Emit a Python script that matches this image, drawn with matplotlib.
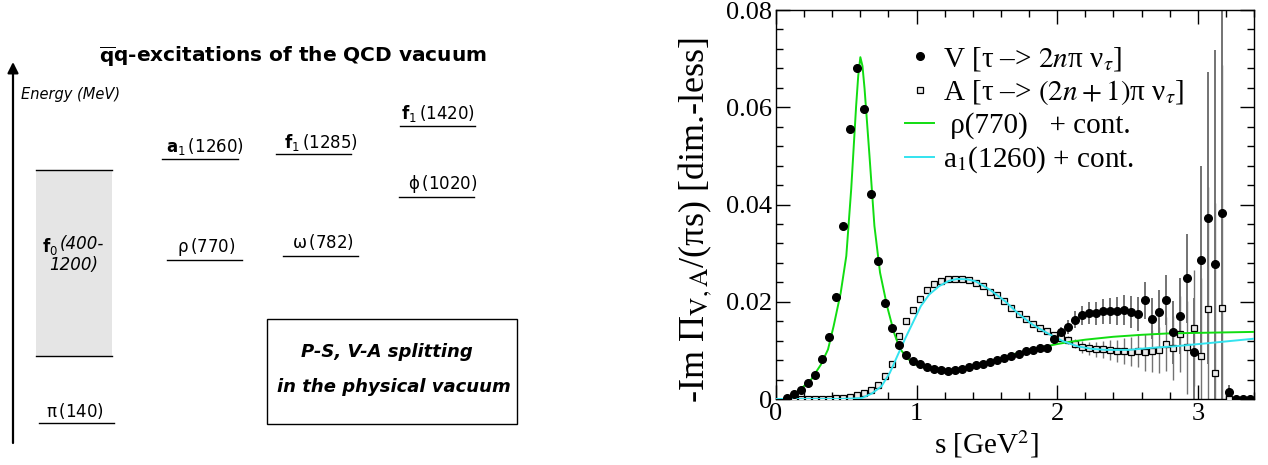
import matplotlib
matplotlib.use('Agg')
import matplotlib.pyplot as plt
from matplotlib.lines import Line2D
from matplotlib.patches import Rectangle

plt.rcParams['font.family'] = ['DejaVu Sans']

# ---------------- left panel: level scheme ----------------
level_names = [r"$\mathrm{π}$", r"$\mathrm{ρ}$", r"$\mathbf{a}_1$", r"$\mathrm{ω}$",
               r"$\mathbf{f}_1$", r"$\mathrm{ϕ}$", r"$\mathbf{f}_1$"]
level_masses = ["140", "770", "1260", "782", "1285", "1020", "1420"]
f0_name = r"$\mathbf{f}_0$"
f0_range = ("(400-", "1200)")

# layout in pixel coords of the 1268x465 canvas: (line x0, line x1, line y, label x, label y)
level_layout = [(39, 114, 423, 46, 411),
                (167, 242, 260, 177, 247),
                (162, 238, 159, 166, 146),
                (283, 358, 256, 292, 242),
                (276, 351, 154, 284, 142),
                (399, 474, 197, 408, 184),
                (400, 475, 126, 401, 113)]

# ---------------- right panel: spectral functions ----------------
v_s = [0.075, 0.125, 0.175, 0.225, 0.275, 0.325, 0.375, 0.425, 0.475, 0.525,
       0.575, 0.625, 0.675, 0.725, 0.775, 0.825, 0.875, 0.925, 0.975, 1.025,
       1.075, 1.125, 1.175, 1.225, 1.275, 1.325, 1.375, 1.425, 1.475, 1.525,
       1.575, 1.625, 1.675, 1.725, 1.775, 1.825, 1.875, 1.925, 1.975, 2.025,
       2.075, 2.125, 2.175, 2.225, 2.275, 2.325, 2.375, 2.425, 2.475, 2.525,
       2.575, 2.625, 2.675, 2.725, 2.775, 2.825, 2.875, 2.925, 2.975, 3.025,
       3.075, 3.125, 3.175, 3.225, 3.275, 3.325, 3.375]
v_val = [0.0002, 0.0010, 0.0019, 0.0032, 0.0050, 0.0082, 0.0127, 0.0209, 0.0356, 0.0556,
         0.0681, 0.0596, 0.0422, 0.0283, 0.0198, 0.0145, 0.0112, 0.0090, 0.0079, 0.0071,
         0.0066, 0.0062, 0.0060, 0.0057, 0.0059, 0.0062, 0.0065, 0.0069, 0.0073, 0.0077,
         0.0080, 0.0084, 0.0088, 0.0093, 0.0098, 0.0100, 0.0105, 0.0104, 0.0124, 0.0137,
         0.0148, 0.0163, 0.0172, 0.0177, 0.0176, 0.0180, 0.0181, 0.0181, 0.0183, 0.0179,
         0.0175, 0.0203, 0.0165, 0.0178, 0.0204, 0.0137, 0.0170, 0.0248, 0.0097, 0.0285,
         0.0372, 0.0278, 0.0383, 0.0014, 0.0, 0.0, 0.0]
v_err = [0.0002, 0.0002, 0.0002, 0.0002, 0.0003, 0.0003, 0.0003, 0.0004, 0.0004, 0.0005,
         0.0005, 0.0005, 0.0004, 0.0004, 0.0003, 0.0003, 0.0003, 0.0003, 0.0003, 0.0003,
         0.0003, 0.0003, 0.0003, 0.0003, 0.0004, 0.0004, 0.0004, 0.0004, 0.0005, 0.0005,
         0.0005, 0.0005, 0.0006, 0.0006, 0.0007, 0.0007, 0.0008, 0.0008, 0.0010, 0.0012,
         0.0015, 0.0018, 0.0020, 0.0022, 0.0024, 0.0026, 0.0027, 0.0028, 0.0030, 0.0032,
         0.0035, 0.0038, 0.0042, 0.0047, 0.0052, 0.0065, 0.0078, 0.0092, 0.0110, 0.0195,
         0.0300, 0.0440, 0.0650, 0.0015, 0.0, 0.0, 0.0]

a_s = [0.125, 0.175, 0.225, 0.275, 0.325, 0.375, 0.425, 0.475, 0.525, 0.575,
       0.625, 0.675, 0.725, 0.775, 0.825, 0.875, 0.925, 0.975, 1.025, 1.075,
       1.125, 1.175, 1.225, 1.275, 1.325, 1.375, 1.425, 1.475, 1.525, 1.575,
       1.625, 1.675, 1.725, 1.775, 1.825, 1.875, 1.925, 1.975, 2.025, 2.075,
       2.125, 2.175, 2.225, 2.275, 2.325, 2.375, 2.425, 2.475, 2.525, 2.575,
       2.625, 2.675, 2.725, 2.775, 2.825, 2.875, 2.925, 2.975, 3.025, 3.075,
       3.125, 3.175, 3.225]
a_val = [0.0, 0.0, 0.0, 0.0, 0.0, 0.0001, 0.0002, 0.0003, 0.0005, 0.0008,
         0.0012, 0.0019, 0.0029, 0.0047, 0.0073, 0.0130, 0.0160, 0.0184, 0.0206, 0.0224,
         0.0236, 0.0243, 0.0246, 0.0247, 0.0246, 0.0244, 0.0239, 0.0232, 0.0220, 0.0213,
         0.0201, 0.0188, 0.0175, 0.0164, 0.0154, 0.0146, 0.0139, 0.0132, 0.0125, 0.0121,
         0.0114, 0.0107, 0.0104, 0.0102, 0.0102, 0.0101, 0.0099, 0.0099, 0.0097, 0.0099,
         0.0096, 0.0099, 0.0101, 0.0113, 0.0105, 0.0133, 0.0106, 0.0146, 0.0088, 0.0186,
         0.0053, 0.0187, 0.0]
a_err = [0.0001, 0.0001, 0.0001, 0.0001, 0.0001, 0.0001, 0.0001, 0.0001, 0.0001, 0.0001,
         0.0001, 0.0002, 0.0002, 0.0002, 0.0002, 0.0003, 0.0003, 0.0003, 0.0003, 0.0003,
         0.0003, 0.0003, 0.0003, 0.0003, 0.0003, 0.0003, 0.0003, 0.0003, 0.0003, 0.0004,
         0.0004, 0.0004, 0.0004, 0.0004, 0.0005, 0.0005, 0.0005, 0.0005, 0.0006, 0.0008,
         0.0010, 0.0012, 0.0014, 0.0016, 0.0018, 0.0020, 0.0023, 0.0026, 0.0030, 0.0034,
         0.0038, 0.0043, 0.0048, 0.0055, 0.0065, 0.0078, 0.0095, 0.0120, 0.0160, 0.0250,
         0.0350, 0.0500, 0.0]

rho_s = [0.08, 0.17, 0.25, 0.32, 0.37, 0.41, 0.46, 0.50, 0.535, 0.57, 0.585, 0.60,
         0.615, 0.63, 0.665, 0.70, 0.74, 0.79, 0.84, 0.88, 0.94, 1.0, 1.07, 1.14,
         1.21, 1.3, 1.4, 1.5, 1.6, 1.7, 1.8, 1.9, 2.0, 2.1, 2.2, 2.4, 2.6, 2.8,
         3.0, 3.2, 3.4]
rho_val = [0.0, 0.0019, 0.0040, 0.0071, 0.0102, 0.0150, 0.0218, 0.0294, 0.0432, 0.0603,
           0.0665, 0.0703, 0.0685, 0.0638, 0.0500, 0.0356, 0.0260, 0.0191, 0.0136, 0.0104,
           0.0082, 0.0070, 0.0063, 0.0059, 0.0056, 0.0059, 0.0066, 0.0075, 0.0084, 0.0093,
           0.0100, 0.0107, 0.0113, 0.0118, 0.0122, 0.0128, 0.0132, 0.0135, 0.0136, 0.0137,
           0.0138]

a1_s = [0.0, 0.45, 0.55, 0.61, 0.68, 0.75, 0.81, 0.87, 0.92, 0.97, 1.03, 1.09,
        1.16, 1.23, 1.29, 1.36, 1.42, 1.52, 1.63, 1.73, 1.83, 1.94, 2.04, 2.15,
        2.25, 2.35, 2.51, 2.66, 2.82, 3.08, 3.4]
a1_val = [0.0, 0.0, 0.0001, 0.0002, 0.0011, 0.0026, 0.0054, 0.0093, 0.0125, 0.0155,
          0.0191, 0.0215, 0.0232, 0.0243, 0.0247, 0.0246, 0.0242, 0.0225, 0.0201, 0.0174,
          0.0152, 0.0134, 0.0119, 0.0108, 0.0103, 0.0101, 0.0101, 0.0105, 0.0108, 0.0115,
          0.0124]

W, H = 1268, 465
fig = plt.figure(figsize=(W / 100, H / 100), dpi=100)

# ---- left diagram, pixel coordinates
ax0 = fig.add_axes([0, 0, 570 / W, 1])
ax0.set_xlim(0, 570)
ax0.set_ylim(H, 0)
ax0.axis('off')

ax0.annotate('', xy=(13, 62), xytext=(13, 443),
             arrowprops=dict(arrowstyle='-|>', lw=1.6, color='k', mutation_scale=16,
                             shrinkA=0, shrinkB=0))
ax0.text(21, 94, 'Energy (MeV)', fontsize=10.5, style='italic', va='center', ha='left')
ax0.text(293, 57, r'$\overline{\mathbf{q}}$q-excitations of the QCD vacuum',
         fontsize=14.5, fontweight='bold', va='center', ha='center',
         math_fontfamily='dejavusans')

# f0 broad band
ax0.add_patch(Rectangle((36, 170), 76, 186, facecolor='#e5e5e5', edgecolor='none'))
ax0.plot([36, 112], [170, 170], color='k', lw=1)
ax0.plot([36, 112], [356, 356], color='k', lw=1)
ax0.text(42, 246, f0_name, fontsize=12, va='center', ha='left', math_fontfamily='dejavusans')
ax0.text(60, 244, f0_range[0], fontsize=12, style='italic', va='center', ha='left')
ax0.text(98, 265, f0_range[1], fontsize=12, style='italic', va='center', ha='right')

for name, mass, (x0, x1, y, tx, ty) in zip(level_names, level_masses, level_layout):
    ax0.plot([x0, x1], [y, y], color='k', lw=1)
    ax0.text(tx, ty, name + r'$\,\mathit{(' + mass + ')}$', fontsize=12,
             va='center', ha='left', math_fontfamily='dejavusans')

ax0.add_patch(Rectangle((267, 319), 250, 105, facecolor='none', edgecolor='k', lw=1))
ax0.text(387, 352, 'P-S, V-A splitting', fontsize=13, fontweight='bold', style='italic',
         ha='center', va='center')
ax0.text(394, 387, 'in the physical vacuum', fontsize=13, fontweight='bold',
         style='italic', ha='center', va='center')

# ---- right plot
serif = 'Liberation Serif'
ax = fig.add_axes([776 / W, 1 - 399 / H, (1254 - 776) / W, (399 - 10) / H])

ax.errorbar(v_s, v_val, yerr=v_err, fmt='none', ecolor='0.3', elinewidth=1.1, zorder=2)
ax.errorbar(a_s, a_val, yerr=a_err, fmt='none', ecolor='0.45', elinewidth=1.0, zorder=2)
ax.plot(a_s, a_val, 's', ms=4.5, mfc='0.92', mec='k', mew=0.9, zorder=3)
ax.plot(rho_s, rho_val, color='#11dd11', lw=1.4, zorder=4)
ax.plot(a1_s, a1_val, color='#33e3ef', lw=1.4, zorder=4)
ax.plot(v_s, v_val, 'o', ms=5.5, color='k', zorder=5)

ax.set_xlim(0, 3.4)
ax.set_ylim(0, 0.08)
ax.set_xticks([0, 1, 2, 3])
ax.set_xticklabels(['0', '1', '2', '3'])
ax.set_yticks([0, 0.02, 0.04, 0.06, 0.08])
ax.set_yticklabels(['0', '0.02', '0.04', '0.06', '0.08'])
ax.set_xticks([0.2 * i for i in range(18)], minor=True)
ax.set_yticks([0.004 * i for i in range(21)], minor=True)
ax.tick_params(which='both', direction='in', top=True, right=True, width=1,
               labelsize=19, labelfontfamily=serif, pad=3)
ax.tick_params(which='major', length=10)
ax.tick_params(which='minor', length=5)
for sp in ax.spines.values():
    sp.set_linewidth(1)

ax.set_xlabel('s [GeV$^2$]', fontsize=21, family=serif, math_fontfamily='stix')
ax.xaxis.set_label_coords(0.44, -0.075)
ax.set_ylabel('-Im Π$_{\\rm V,A}$/(πs) [dim.-less]', fontsize=26, family=serif,
              math_fontfamily='stix')
ax.yaxis.set_label_coords(-0.13, 0.46)

handles = [Line2D([], [], marker='o', ls='none', color='k', ms=5.5),
           Line2D([], [], marker='s', ls='none', ms=4.5, mfc='0.92', mec='k', mew=0.9),
           Line2D([], [], color='#11dd11', lw=1.4),
           Line2D([], [], color='#33e3ef', lw=1.4)]
labels = ['V [τ –> $\\it{2n}$π ν$_τ$]',
          'A [τ –> $\\it{(2n+1)}$π ν$_τ$]',
          ' ρ(770)   + cont.',
          'a$_1$(1260) + cont.']
leg = ax.legend(handles, labels, loc='upper left', bbox_to_anchor=(0.27, 0.91),
                frameon=False, prop=dict(family=serif, size=21), handlelength=1.0,
                handletextpad=0.3, labelspacing=0.18, borderpad=0, borderaxespad=0)
for t in leg.get_texts():
    t.set_math_fontfamily('stix')

fig.savefig('out.png', dpi=100)
